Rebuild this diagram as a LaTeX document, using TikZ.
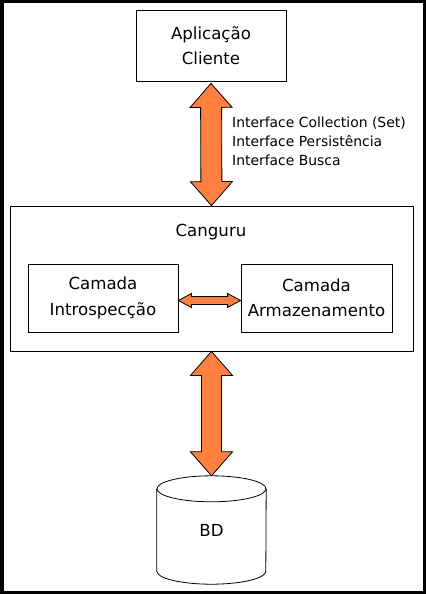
\documentclass[tikz,border=0pt]{standalone}
\usepackage{fontspec}
\setmainfont{DejaVu Sans}
\usetikzlibrary{calc}
\definecolor{seta}{RGB}{255,128,64}
\newcommand{\fatarrow}[5]{%
  \coordinate (ha) at ($(#1)!#5!(#2)$);
  \coordinate (hb) at ($(#2)!#5!(#1)$);
  \draw[arrowbody] (#1) -- ($(ha)!#4!90:(#2)$) -- ($(ha)!#3!90:(#2)$) -- ($(hb)!#3!-90:(#1)$) -- ($(hb)!#4!-90:(#1)$) -- (#2) -- ($(hb)!#4!90:(#1)$) -- ($(hb)!#3!90:(#1)$) -- ($(ha)!#3!-90:(#2)$) -- ($(ha)!#4!-90:(#2)$) -- cycle;
}
\begin{document}
\begin{tikzpicture}[x=1pt,y=-1pt,
  box/.style={draw,line width=0.8pt,inner sep=0pt,align=center,font=\fontsize{16.6}{25.5}\selectfont},
  arrowbody/.style={draw,line width=0.8pt,fill=seta,line join=miter}]
\useasboundingbox (0,0) rectangle (426,594);
\draw[line width=3.5pt] (1.75,1.75) rectangle (424.25,592.25);

\node[box,minimum width=150pt,minimum height=71pt] (app) at (211,45.5) {Aplicação\\Cliente};
\node[box,minimum width=403pt,minimum height=145pt] (canguru) at (211.5,278.5) {};
\node[font=\fontsize{16.6}{20}\selectfont,inner sep=0pt] (cangurutit) at (211,232.5) {Canguru};
\node[box,minimum width=150pt,minimum height=68pt] (intro) at (103,298) {Camada\\Introspecção};
\node[box,minimum width=151pt,minimum height=68pt] (armaz) at (316.5,298) {Camada\\Armazenamento};
\node[inner sep=0pt,minimum width=109pt,minimum height=108pt,font=\fontsize{16.6}{20}\selectfont] (bd) at (211.5,530) {BD};
\draw[line width=0.8pt] ([yshift=-13pt]bd.north) ellipse [x radius=54.5pt, y radius=13pt];
\draw[line width=0.8pt] ([yshift=-13pt]bd.north west) -- ([yshift=13pt]bd.south west) arc[start angle=180, end angle=360, x radius=54.5pt, y radius=13pt] -- ([yshift=-13pt]bd.north east);

\node[anchor=west,align=left,inner sep=0pt,font=\fontsize{13.9}{19.4}\selectfont] (ifaces) at (232,141.3) {Interface Collection (Set)\\Interface Persistência\\Interface Busca};

\coordinate (c1) at ([yshift=-2pt]app.south);
\fatarrow{c1}{canguru.north}{10.5pt}{21pt}{24pt}
\fatarrow{canguru.south}{bd.north}{10pt}{21pt}{24pt}
\coordinate (c2) at ([yshift=-2.5pt]intro.east);
\coordinate (c3) at ([yshift=-2.5pt]armaz.west);
\fatarrow{c2}{c3}{4pt}{7pt}{13pt}
\end{tikzpicture}
\end{document}
